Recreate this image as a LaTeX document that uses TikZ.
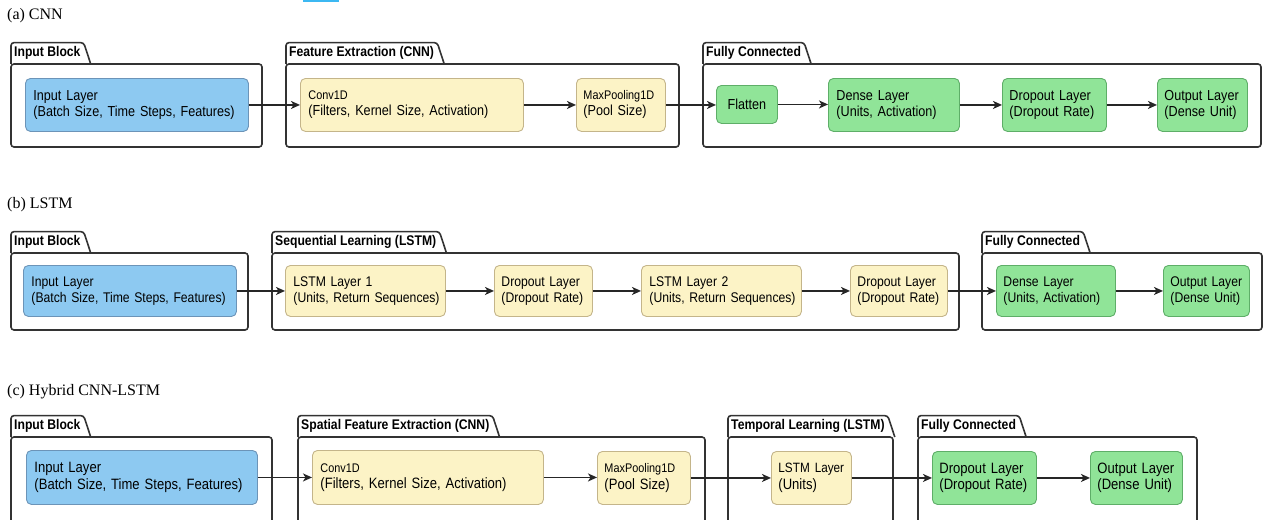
\documentclass[tikz,border=0pt]{standalone}
\usepackage{fontspec}
\setmainfont{Liberation Serif}
\newfontfamily\nodefont[FakeStretch=0.87]{Liberation Sans}
\usetikzlibrary{arrows.meta,calc}
\definecolor{bfill}{HTML}{8DC9F1}
\definecolor{bline}{HTML}{6C94B8}
\definecolor{yfill}{HTML}{FCF3C6}
\definecolor{yline}{HTML}{C4B58A}
\definecolor{gfill}{HTML}{90E498}
\definecolor{gline}{HTML}{5EAE68}
\definecolor{fline}{HTML}{333333}
\definecolor{hl}{HTML}{3CB8F2}
\tikzset{
  layer/.style={rounded corners=5pt, line width=0.9pt, anchor=north west, inner xsep=8pt, inner ysep=0pt, align=left,
     font=\nodefont\fontsize{14.5}{16}\selectfont},
  rowb/.style={font=\nodefont\fontsize{14}{15.5}\selectfont},
  rowc/.style={font=\nodefont\fontsize{15}{16.5}\selectfont},
  bluebox/.style={layer, fill=bfill, draw=bline},
  yelbox/.style={layer, fill=yfill, draw=yline},
  grnbox/.style={layer, fill=gfill, draw=gline},
  tabt/.style={anchor=south west, inner xsep=3pt, inner ysep=0pt, minimum height=21pt,
     font=\nodefont\bfseries\fontsize{14}{16}\selectfont},
  frame/.style={draw=fline, line width=1.6pt, rounded corners=3pt},
  arr/.style={draw=black!85, line width=1.4pt, -{Stealth[length=9pt,width=8pt,inset=2.5pt]}},
  sect/.style={anchor=west, inner sep=0pt, font=\fontsize{16}{18}\selectfont},
}
\newcommand\smalltxt{\fontsize{12.5}{16}\selectfont}
\newcommand\two[2]{\mbox{#1}\\\mbox{#2}}
\begin{document}
\begin{tikzpicture}[x=1pt,y=-1pt]
\useasboundingbox (0,0) rectangle (1268,519);
\clip (0,0) rectangle (1268,519);
\fill[white] (0,0) rectangle (1268,519);
\fill[hl] (303,0) rectangle (339,2);

% ---------- (a) CNN ----------
\node[sect] (ta) at (7,16) {(a) CNN};
\draw[frame] (11,64) rectangle (262,147);
\node[tabt] (fa1) at (11,64) {Input Block};
\draw[frame] (fa1.south west) -- (fa1.north west) -- (fa1.north east) -- ([xshift=7pt]fa1.south east);
\draw[frame] (286,64) rectangle (679,147);
\node[tabt] (fa2) at (286,64) {Feature Extraction (CNN)};
\draw[frame] (fa2.south west) -- (fa2.north west) -- (fa2.north east) -- ([xshift=7pt]fa2.south east);
\draw[frame] (703,64) rectangle (1261,147);
\node[tabt] (fa3) at (703,64) {Fully Connected};
\draw[frame] (fa3.south west) -- (fa3.north west) -- (fa3.north east) -- ([xshift=7pt]fa3.south east);
\node[bluebox, minimum width=223pt, minimum height=53pt, text width=207pt] (ainp) at (25,78) {\two{Input Layer}{(Batch Size, Time Steps, Features)}};
\node[yelbox, minimum width=223pt, minimum height=53pt, text width=207pt] (aconv) at (300,78) {\two{\smalltxt Conv1D}{(Filters, Kernel Size, Activation)}};
\node[yelbox, minimum width=89pt, minimum height=53pt, text width=75pt, inner xsep=7pt] (apool) at (576,78) {\two{\smalltxt MaxPooling1D}{(Pool Size)}};
\node[grnbox, minimum width=61pt, minimum height=38pt, align=center, inner xsep=2pt] (aflat) at (716,85) {Flatten};
\node[grnbox, minimum width=131pt, minimum height=53pt, text width=115pt] (adense) at (828,78) {\two{Dense Layer}{(Units, Activation)}};
\node[grnbox, minimum width=104pt, minimum height=53pt, text width=90pt, inner xsep=7pt] (adrop) at (1002,78) {\two{Dropout Layer}{(Dropout Rate)}};
\node[grnbox, minimum width=90pt, minimum height=53pt, text width=76pt, inner xsep=7pt] (aout) at (1157,78) {\two{Output Layer}{(Dense Unit)}};
\draw[arr] (ainp.east) -- (ainp.east -| aconv.west);
\draw[arr] (aconv.east) -- (aconv.east -| apool.west);
\draw[arr] (apool.east) -- (apool.east -| aflat.west);
\draw[arr] (aflat.east) -- (aflat.east -| adense.west);
\draw[arr] (adense.east) -- (adense.east -| adrop.west);
\draw[arr] (adrop.east) -- (adrop.east -| aout.west);

% ---------- (b) LSTM ----------
\node[sect] (tb) at (7,205) {(b) LSTM};
\draw[frame] (11,253) rectangle (248,330);
\node[tabt] (fb1) at (11,253) {Input Block};
\draw[frame] (fb1.south west) -- (fb1.north west) -- (fb1.north east) -- ([xshift=7pt]fb1.south east);
\draw[frame] (272,253) rectangle (959,330);
\node[tabt] (fb2) at (272,253) {Sequential Learning (LSTM)};
\draw[frame] (fb2.south west) -- (fb2.north west) -- (fb2.north east) -- ([xshift=7pt]fb2.south east);
\draw[frame] (982,253) rectangle (1262,330);
\node[tabt] (fb3) at (982,253) {Fully Connected};
\draw[frame] (fb3.south west) -- (fb3.north west) -- (fb3.north east) -- ([xshift=7pt]fb3.south east);
\node[bluebox, rowb, minimum width=213pt, minimum height=51pt, text width=197pt] (binp) at (23,265) {\two{Input Layer}{(Batch Size, Time Steps, Features)}};
\node[yelbox, rowb, minimum width=160pt, minimum height=51pt, text width=144pt] (bl1) at (285,265) {\two{LSTM Layer 1}{(Units, Return Sequences)}};
\node[yelbox, rowb, minimum width=98pt, minimum height=51pt, text width=84pt, inner xsep=7pt] (bd1) at (494,265) {\two{Dropout Layer}{(Dropout Rate)}};
\node[yelbox, rowb, minimum width=160pt, minimum height=51pt, text width=144pt] (bl2) at (641,265) {\two{LSTM Layer 2}{(Units, Return Sequences)}};
\node[yelbox, rowb, minimum width=97pt, minimum height=51pt, text width=83pt, inner xsep=7pt] (bd2) at (850,265) {\two{Dropout Layer}{(Dropout Rate)}};
\node[grnbox, rowb, minimum width=119pt, minimum height=51pt, text width=105pt, inner xsep=7pt] (bdense) at (996,265) {\two{Dense Layer}{(Units, Activation)}};
\node[grnbox, rowb, minimum width=86pt, minimum height=51pt, text width=72pt, inner xsep=7pt] (bout) at (1163,265) {\two{Output Layer}{(Dense Unit)}};
\draw[arr] (binp.east) -- (binp.east -| bl1.west);
\draw[arr] (bl1.east) -- (bl1.east -| bd1.west);
\draw[arr] (bd1.east) -- (bd1.east -| bl2.west);
\draw[arr] (bl2.east) -- (bl2.east -| bd2.west);
\draw[arr] (bd2.east) -- (bd2.east -| bdense.west);
\draw[arr] (bdense.east) -- (bdense.east -| bout.west);

% ---------- (c) Hybrid ----------
\node[sect] (tc) at (7,392) {(c) Hybrid CNN-LSTM};
\draw[frame] (11,437) rectangle (272,545);
\node[tabt] (fc1) at (11,437) {Input Block};
\draw[frame] (fc1.south west) -- (fc1.north west) -- (fc1.north east) -- ([xshift=7pt]fc1.south east);
\draw[frame] (298,437) rectangle (705,545);
\node[tabt] (fc2) at (298,437) {Spatial Feature Extraction (CNN)};
\draw[frame] (fc2.south west) -- (fc2.north west) -- (fc2.north east) -- ([xshift=7pt]fc2.south east);
\draw[frame] (728,437) rectangle (893,545);
\node[tabt] (fc3) at (728,437) {Temporal Learning (LSTM)};
\draw[frame] (fc3.south west) -- (fc3.north west) -- (fc3.north east) -- ([xshift=7pt]fc3.south east);
\draw[frame] (918,437) rectangle (1197,545);
\node[tabt] (fc4) at (918,437) {Fully Connected};
\draw[frame] (fc4.south west) -- (fc4.north west) -- (fc4.north east) -- ([xshift=7pt]fc4.south east);
\node[bluebox, rowc, minimum width=231pt, minimum height=54pt, text width=215pt] (cinp) at (26,450) {\two{Input Layer}{(Batch Size, Time Steps, Features)}};
\node[yelbox, rowc, minimum width=231pt, minimum height=54pt, text width=215pt] (cconv) at (312,450) {\two{\smalltxt Conv1D}{(Filters, Kernel Size, Activation)}};
\node[yelbox, rowc, minimum width=93pt, minimum height=53pt, text width=79pt, inner xsep=7pt] (cpool) at (597,451) {\two{\smalltxt MaxPooling1D}{(Pool Size)}};
\node[yelbox, rowc, minimum width=80pt, minimum height=53pt, text width=66pt, inner xsep=7pt] (clstm) at (771,451) {\two{\fontsize{13.5}{16}\selectfont LSTM Layer}{(Units)}};
\node[grnbox, rowc, minimum width=104pt, minimum height=53pt, text width=90pt, inner xsep=7pt] (cdrop) at (932,451) {\two{Dropout Layer}{(Dropout Rate)}};
\node[grnbox, rowc, minimum width=92pt, minimum height=53pt, text width=78pt, inner xsep=7pt] (cout) at (1090,451) {\two{Output Layer}{(Dense Unit)}};
\draw[arr] (cinp.east) -- (cinp.east -| cconv.west);
\draw[arr] (cconv.east) -- (cconv.east -| cpool.west);
\draw[arr] (cpool.east) -- (cpool.east -| clstm.west);
\draw[arr] (clstm.east) -- (clstm.east -| cdrop.west);
\draw[arr] (cdrop.east) -- (cdrop.east -| cout.west);
\end{tikzpicture}
\end{document}
